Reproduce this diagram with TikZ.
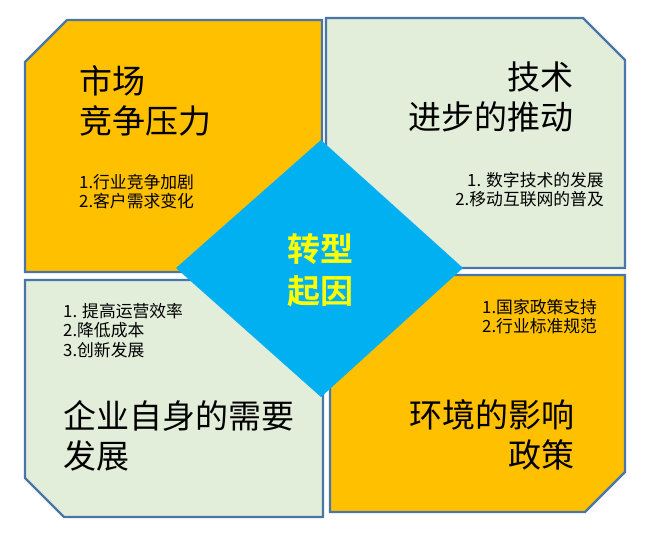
\documentclass[tikz,border=0pt]{standalone}
\usepackage{fontspec}
\setmainfont{Noto Sans CJK SC}
\newfontfamily\cjkbold{Noto Sans CJK SC Bold}
\definecolor{bordc}{RGB}{72,118,168}
\definecolor{orangec}{RGB}{255,192,0}
\definecolor{greenc}{RGB}{226,238,218}
\definecolor{bluec}{RGB}{0,176,240}
\definecolor{yellc}{RGB}{255,255,0}
\tikzset{
  panel/.style={draw=bordc, line width=2.2pt, line join=miter},
  bigtxt/.style={inner sep=0pt, font=\fontsize{33}{40}\selectfont, align=left},
  smalltxt/.style={inner sep=0pt, font=\fontsize{16.8}{19.5}\selectfont, align=left},
}
\begin{document}
\begin{tikzpicture}[x=1pt,y=-1pt]
\useasboundingbox (0,0) rectangle (645,533);
% panels
\fill[orangec, panel] (25,62) -- (67,20) -- (322,20) -- (322,272) -- (25,272) -- cycle;
\fill[greenc, panel] (326,18) -- (583,18) -- (625,60) -- (625,268) -- (326,268) -- cycle;
\fill[greenc, panel] (25,280) -- (323,280) -- (323,517) -- (64,517) -- (25,478) -- cycle;
\fill[orangec, panel] (330,275) -- (625,275) -- (625,472) -- (585,512) -- (330,512) -- cycle;
% diamond
\fill[bluec] (176,268) -- (321,140) -- (463,268) -- (321,397) -- cycle;
\node[inner sep=0pt, font=\cjkbold\fontsize{33}{42}\selectfont, text=yellc, align=center] (title) at (320,270) {转型\\起因};
% top-left
\node[bigtxt, anchor=north west] (tl) at (79,65) {市场\\竞争压力};
\node[smalltxt, anchor=north west] (tll) at (79,174) {1.行业竞争加剧\\2.客户需求变化};
% top-right
\node[bigtxt, anchor=north east, align=right] (tr) at (574,62) {技术\\进步的推动};
\node[smalltxt, anchor=north east, align=right] (trl) at (604,172) {1. 数字技术的发展\\2.移动互联网的普及};
% bottom-left
\node[smalltxt, anchor=north west] (bll) at (63,303) {1. 提高运营效率\\2.降低成本\\3.创新发展};
\node[bigtxt, anchor=north west] (bl) at (63,400) {企业自身的需要\\发展};
% bottom-right
\node[smalltxt, anchor=north west] (brl) at (482,299) {1.国家政策支持\\2.行业标准规范};
\node[bigtxt, anchor=north east, align=right] (br) at (575,399) {环境的影响\\政策};
\end{tikzpicture}
\end{document}
